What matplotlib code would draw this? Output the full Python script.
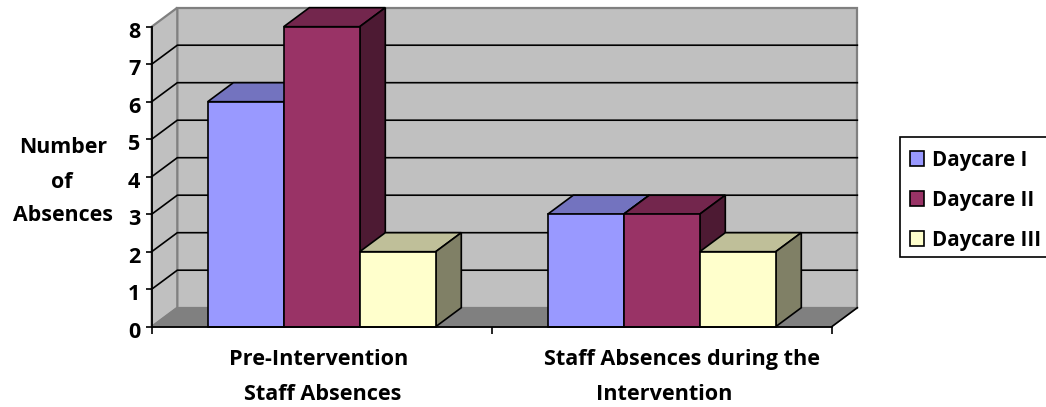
import matplotlib
matplotlib.use('Agg')
import matplotlib.pyplot as plt
from matplotlib.patches import Patch, Polygon, Rectangle
from matplotlib.transforms import ScaledTranslation

categories = ['Pre-Intervention\nStaff Absences', 'Staff Absences during the\nIntervention']
series_names = ['Daycare I', 'Daycare II', 'Daycare III']
daycare_1 = [6, 3]
daycare_2 = [8, 3]
daycare_3 = [2, 2]
y_ticks = [0, 1, 2, 3, 4, 5, 6, 7, 8]

front_colors = ['#9999FF', '#993366', '#FFFFCC']
top_colors = ['#7373BF', '#73264D', '#BFBF99']
side_colors = ['#4D4D80', '#4D1A33', '#808066']

W, H = 1046, 407
plt.rcParams['font.family'] = ['Open Sans', 'DejaVu Sans']
plt.rcParams['font.weight'] = 'bold'

fig = plt.figure(figsize=(W / 100, H / 100), dpi=100)
ax = fig.add_axes([151.7 / W, 1 - 326.7 / H, 680 / W, 300 / H])
ax.set_xlim(0, 2)
ax.set_ylim(0, 8)
ax.patch.set_visible(False)

# fake 3d depth, in data units
dx = 25.6 / 340
dy = 19 / 37.5
bar_w = 76 / 340
top = y_ticks[-1]

# walls and floor
ax.add_patch(Polygon([(dx, dy), (2 + dx, dy), (2 + dx, top + dy), (dx, top + dy)],
                     fc='#C0C0C0', ec='#808080', lw=1.6, clip_on=False, zorder=1))
ax.add_patch(Polygon([(0, 0), (dx, dy), (dx, top + dy), (0, top)],
                     fc='#C0C0C0', ec='#808080', lw=1.6, clip_on=False, zorder=1))
ax.add_patch(Polygon([(0, 0), (2, 0), (2 + dx, dy), (dx, dy)],
                     fc='#808080', ec='#808080', lw=1, clip_on=False, zorder=1))

for v in y_ticks[1:-1]:
    ax.plot([0, dx, 2 + dx], [v, v + dy, v + dy], c='k', lw=1.2, clip_on=False, zorder=1.5)
ax.plot([2, 2 + dx], [0, dy], c='k', lw=1.2, clip_on=False, zorder=1.5)

# bars, left to right so each one covers the side of the previous
all_series = [daycare_1, daycare_2, daycare_3]
z = 3
for g in range(len(categories)):
    left = g + 0.5 - 1.5 * bar_w
    for s, values in enumerate(all_series):
        x0 = left + s * bar_w
        x1 = x0 + bar_w
        v = values[g]
        for pts, col in [
            ([(x0, v), (x1, v), (x1 + dx, v + dy), (x0 + dx, v + dy)], top_colors[s]),
            ([(x1, 0), (x1 + dx, dy), (x1 + dx, v + dy), (x1, v)], side_colors[s]),
            ([(x0, 0), (x1, 0), (x1, v), (x0, v)], front_colors[s]),
        ]:
            ax.add_patch(Polygon(pts, fc=col, ec='k', lw=1.2, joinstyle='miter',
                                 clip_on=False, zorder=z))
        z += 1

for name in ['top', 'right']:
    ax.spines[name].set_visible(False)
for name in ['left', 'bottom']:
    ax.spines[name].set_linewidth(1.3)
    ax.spines[name].set_zorder(20)

ax.set_yticks(y_ticks)
ax.tick_params(axis='y', length=4.3, width=1.2, pad=4, labelsize=15.5)
shift = ScaledTranslation(0, -3 / 100, fig.dpi_scale_trans)
for lab in ax.get_yticklabels():
    lab.set_transform(lab.get_transform() + shift)

ax.set_xticks([0, 1, 2])
ax.set_xticklabels([])
ax.tick_params(axis='x', length=5, width=1.2)

# category labels, each line placed on its own
label_x = [319, 682.5]
label_x2 = [322.5, 664]
for i, cat in enumerate(categories):
    line1, line2 = cat.split('\n')
    fig.text(label_x[i] / W, 1 - 365 / H, line1, ha='center', va='baseline', fontsize=15.6)
    fig.text(label_x2[i] / W, 1 - 400 / H, line2, ha='center', va='baseline', fontsize=15.6)

# axis title
for txt, px, py in [('Number', 63, 153), ('of', 62, 188), ('Absences', 63, 221)]:
    fig.text(px / W, 1 - py / H, txt, ha='center', va='baseline', fontsize=15.4)

# legend box runs off the right edge, so it is drawn apart from the entries
fig.add_artist(Rectangle((899.5 / W, 1 - 257 / H), 160 / W, 120 / H, transform=fig.transFigure,
                         fc='w', ec='k', lw=1.2, zorder=4))
handles = [Patch(fc=c, ec='k', lw=1.2) for c in front_colors]
leg = fig.legend(handles, series_names, loc='upper left',
                 bbox_to_anchor=(899.5 / W, 1 - 139.7 / H), borderaxespad=0,
                 fontsize=14.8, frameon=False,
                 handlelength=0.68, handleheight=0.72,
                 handletextpad=0.42, labelspacing=0.92, borderpad=0.5)

fig.savefig('out.png', dpi=100)
